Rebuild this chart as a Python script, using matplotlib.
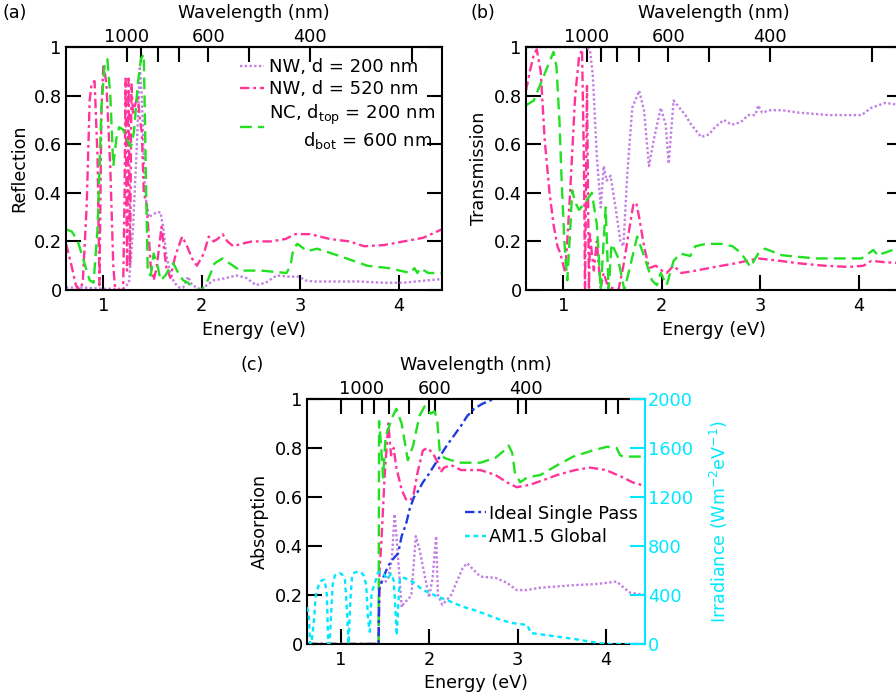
import numpy as np
import matplotlib
matplotlib.use("Agg")
import matplotlib.pyplot as plt
from matplotlib.ticker import FuncFormatter

plt.rcParams["font.family"] = ["DejaVu Sans"]
plt.rcParams["font.size"] = 12.6
plt.rcParams["mathtext.fontset"] = "dejavusans"

purple = "#c27fe4"
pink = "#ff3399"
green = "#22e022"
blue = "#1f3be0"
cyan = "#00e8ff"

# ---- (a) reflection ----
a_e_nw200 = [0.62, 0.80, 1.00, 1.20, 1.26, 1.30, 1.34, 1.37, 1.39, 1.42, 1.46, 1.50, 1.54, 1.58,
             1.61, 1.64, 1.68, 1.72, 1.77, 1.81, 1.86, 1.90, 1.95, 2.00, 2.05, 2.12, 2.20, 2.35,
             2.45, 2.55, 2.65, 2.76, 2.88, 2.99, 3.05, 3.13, 3.34, 3.60, 3.84, 4.05, 4.17, 4.30, 4.44]
a_r_nw200 = [0.01, 0.01, 0.005, 0.005, 0.03, 0.25, 0.60, 0.92, 0.80, 0.41, 0.30, 0.31, 0.32, 0.32,
             0.25, 0.14, 0.07, 0.03, 0.01, 0.01, 0.055, 0.02, 0.01, 0.0, 0.02, 0.04, 0.045, 0.06,
             0.05, 0.02, 0.03, 0.06, 0.055, 0.055, 0.04, 0.035, 0.035, 0.035, 0.03, 0.03, 0.035, 0.04, 0.045]

a_e_nw520 = [0.62, 0.67, 0.72, 0.76, 0.79, 0.83, 0.86, 0.88, 0.91, 0.94, 0.96, 0.98, 1.00, 1.03,
             1.07, 1.10, 1.12, 1.20, 1.215, 1.225, 1.24, 1.255, 1.27, 1.285, 1.30, 1.32, 1.35, 1.37,
             1.39, 1.41, 1.44, 1.48, 1.51, 1.54, 1.59, 1.64, 1.68, 1.73, 1.80, 1.85, 1.90, 1.95,
             2.02, 2.07, 2.12, 2.16, 2.21, 2.26, 2.32, 2.40, 2.51, 2.70, 2.85, 2.95, 3.10, 3.30,
             3.50, 3.65, 3.85, 4.05, 4.25, 4.44]
a_r_nw520 = [0.19, 0.11, 0.02, 0.0, 0.03, 0.35, 0.78, 0.85, 0.86, 0.55, 0.02, 0.75, 0.93, 0.85,
             0.50, 0.10, 0.0, 0.0, 0.40, 0.87, 0.08, 0.87, 0.10, 0.85, 0.72, 0.76, 0.80, 0.70,
             0.65, 0.40, 0.35, 0.10, 0.04, 0.09, 0.26, 0.09, 0.05, 0.14, 0.22, 0.18, 0.13, 0.10,
             0.15, 0.22, 0.20, 0.21, 0.23, 0.20, 0.18, 0.19, 0.20, 0.20, 0.21, 0.23, 0.23, 0.21,
             0.20, 0.18, 0.185, 0.20, 0.215, 0.25]

a_e_nc = [0.62, 0.68, 0.74, 0.80, 0.86, 0.90, 0.94, 0.98, 1.01, 1.04, 1.07, 1.10, 1.13, 1.16,
          1.20, 1.24, 1.28, 1.31, 1.35, 1.38, 1.41, 1.43, 1.45, 1.48, 1.51, 1.55, 1.58, 1.63,
          1.67, 1.71, 1.76, 1.81, 1.86, 1.92, 2.00, 2.06, 2.13, 2.21, 2.28, 2.39, 2.60, 2.86,
          2.90, 2.93, 2.97, 3.07, 3.17, 3.40, 3.68, 3.90, 4.12, 4.16, 4.19, 4.22, 4.30, 4.44]
a_r_nc = [0.25, 0.24, 0.20, 0.12, 0.04, 0.03, 0.25, 0.75, 0.92, 0.95, 0.80, 0.51, 0.62, 0.67,
          0.66, 0.62, 0.59, 0.65, 0.85, 0.95, 0.97, 0.50, 0.07, 0.06, 0.15, 0.10, 0.04, 0.06,
          0.09, 0.11, 0.07, 0.04, 0.03, 0.0, 0.0, 0.04, 0.11, 0.13, 0.11, 0.08, 0.08, 0.07,
          0.10, 0.17, 0.19, 0.16, 0.17, 0.14, 0.10, 0.09, 0.07, 0.09, 0.07, 0.09, 0.07, 0.07]

# ---- (b) transmission ----
b_e_nw200 = [0.62, 0.90, 1.20, 1.27, 1.30, 1.34, 1.38, 1.41, 1.44, 1.48, 1.53, 1.58, 1.61, 1.65,
             1.70, 1.77, 1.82, 1.87, 1.92, 1.99, 2.04, 2.07, 2.12, 2.18, 2.24, 2.30, 2.40, 2.48,
             2.54, 2.63, 2.71, 2.80, 2.88, 2.95, 2.98, 3.02, 3.10, 3.22, 3.39, 3.70, 4.03, 4.13,
             4.27, 4.44]
b_t_nw200 = [1.0, 1.0, 1.0, 0.99, 0.88, 0.55, 0.34, 0.51, 0.45, 0.47, 0.34, 0.20, 0.18, 0.48,
             0.75, 0.82, 0.74, 0.51, 0.62, 0.75, 0.68, 0.52, 0.78, 0.75, 0.72, 0.68, 0.63, 0.64,
             0.67, 0.70, 0.68, 0.69, 0.72, 0.72, 0.76, 0.73, 0.74, 0.74, 0.73, 0.72, 0.72, 0.75,
             0.77, 0.76]

b_e_nw520 = [0.62, 0.66, 0.70, 0.73, 0.77, 0.81, 0.86, 0.90, 0.94, 0.97, 1.02, 1.07, 1.12, 1.16,
             1.19, 1.21, 1.22, 1.24, 1.26, 1.27, 1.29, 1.31, 1.34, 1.36, 1.38, 1.41, 1.44, 1.48,
             1.56, 1.61, 1.65, 1.71, 1.74, 1.77, 1.82, 1.87, 1.94, 2.00, 2.05, 2.12, 2.20, 2.35,
             2.54, 2.75, 2.98, 3.20, 3.39, 3.65, 3.90, 4.05, 4.13, 4.25, 4.44]
b_t_nw520 = [0.82, 0.90, 0.97, 0.99, 0.90, 0.62, 0.40, 0.27, 0.18, 0.15, 0.07, 0.41, 0.80, 0.96,
             0.99, 0.50, 0.0, 0.84, 0.0, 0.23, 0.15, 0.08, 0.20, 0.10, 0.01, 0.07, 0.03, 0.01,
             0.0, 0.10, 0.20, 0.35, 0.36, 0.30, 0.18, 0.09, 0.10, 0.08, 0.07, 0.10, 0.07, 0.08,
             0.095, 0.11, 0.13, 0.12, 0.11, 0.10, 0.095, 0.10, 0.12, 0.115, 0.11]

b_e_nc = [0.62, 0.70, 0.80, 0.86, 0.90, 0.93, 0.96, 0.98, 1.01, 1.04, 1.07, 1.09, 1.12, 1.16,
          1.22, 1.29, 1.34, 1.38, 1.43, 1.46, 1.49, 1.55, 1.62, 1.68, 1.75, 1.82, 1.90, 1.95,
          1.99, 2.05, 2.12, 2.19, 2.29, 2.34, 2.45, 2.61, 2.72, 2.81, 2.90, 2.98, 3.05, 3.22,
          3.56, 4.03, 4.10, 4.15, 4.20, 4.24, 4.37, 4.44]
b_t_nc = [0.76, 0.78, 0.88, 0.94, 0.98, 0.92, 0.70, 0.48, 0.20, 0.04, 0.25, 0.41, 0.36, 0.33,
          0.36, 0.40, 0.27, 0.0, 0.34, 0.0, 0.19, 0.14, 0.0, 0.10, 0.22, 0.14, 0.04, 0.02,
          0.07, 0.02, 0.12, 0.15, 0.14, 0.18, 0.19, 0.19, 0.18, 0.15, 0.095, 0.15, 0.17, 0.143,
          0.13, 0.13, 0.15, 0.165, 0.14, 0.15, 0.168, 0.17]

# ---- (c) absorption and AM1.5 ----
c_e_nw200 = [0.62, 1.43, 1.44, 1.50, 1.54, 1.58, 1.61, 1.63, 1.66, 1.69, 1.72, 1.76, 1.80, 1.85,
             1.89, 1.95, 2.00, 2.04, 2.08, 2.10, 2.15, 2.25, 2.32, 2.38, 2.43, 2.51, 2.58, 2.75,
             2.88, 2.99, 3.10, 3.26, 3.45, 3.63, 3.90, 4.12, 4.20, 4.27, 4.44]
c_a_nw200 = [0.0, 0.0, 0.26, 0.25, 0.27, 0.35, 0.53, 0.45, 0.30, 0.15, 0.17, 0.18, 0.20, 0.44,
             0.39, 0.28, 0.19, 0.27, 0.44, 0.20, 0.16, 0.20, 0.26, 0.31, 0.33, 0.30, 0.275, 0.27,
             0.25, 0.22, 0.22, 0.23, 0.235, 0.24, 0.245, 0.255, 0.23, 0.21, 0.20]

c_e_nw520 = [0.62, 1.43, 1.44, 1.46, 1.50, 1.54, 1.57, 1.60, 1.63, 1.69, 1.74, 1.78, 1.82, 1.87,
             1.93, 1.98, 2.04, 2.10, 2.13, 2.17, 2.25, 2.36, 2.47, 2.58, 2.75, 2.88, 2.99, 3.14,
             3.30, 3.45, 3.65, 3.82, 4.00, 4.19, 4.30, 4.44]
c_a_nw520 = [0.0, 0.0, 0.30, 0.41, 0.70, 0.90, 0.77, 0.80, 0.72, 0.63, 0.59, 0.585, 0.60, 0.70,
             0.79, 0.80, 0.78, 0.74, 0.70, 0.72, 0.73, 0.71, 0.71, 0.71, 0.69, 0.66, 0.64, 0.65,
             0.67, 0.69, 0.71, 0.72, 0.71, 0.68, 0.66, 0.645]

c_e_nc = [0.62, 1.43, 1.435, 1.46, 1.48, 1.51, 1.55, 1.59, 1.63, 1.69, 1.76, 1.82, 1.89, 1.95,
          2.02, 2.06, 2.09, 2.12, 2.17, 2.25, 2.36, 2.58, 2.75, 2.85, 2.90, 2.94, 2.97, 3.03,
          3.11, 3.26, 3.45, 3.63, 3.85, 4.01, 4.12, 4.16, 4.20, 4.44]
c_a_nc = [0.0, 0.0, 0.91, 0.80, 0.68, 0.85, 0.89, 0.93, 0.96, 0.90, 0.75, 0.81, 0.93, 0.97,
          0.94, 0.95, 0.92, 0.79, 0.76, 0.75, 0.74, 0.74, 0.76, 0.79, 0.81, 0.78, 0.70, 0.66,
          0.68, 0.69, 0.73, 0.765, 0.79, 0.805, 0.80, 0.77, 0.765, 0.765]

c_e_ideal = [0.62, 1.43, 1.435, 1.48, 1.54, 1.60, 1.65, 1.69, 1.74, 1.78, 1.83, 1.87, 1.93, 1.99,
             2.06, 2.13, 2.20, 2.28, 2.36, 2.43, 2.51, 2.60, 2.73]
c_a_ideal = [0.0, 0.0, 0.22, 0.27, 0.32, 0.35, 0.37, 0.44, 0.49, 0.55, 0.60, 0.62, 0.66, 0.69,
             0.73, 0.77, 0.81, 0.85, 0.89, 0.93, 0.96, 0.98, 1.0]

c_e_am15 = [0.62, 0.64, 0.655, 0.67, 0.70, 0.72, 0.76, 0.79, 0.82, 0.845, 0.86, 0.875, 0.89, 0.91,
            0.935, 0.96, 0.99, 1.02, 1.05, 1.07, 1.09, 1.11, 1.13, 1.16, 1.20, 1.23, 1.26, 1.29,
            1.31, 1.33, 1.35, 1.38, 1.42, 1.46, 1.50, 1.53, 1.57, 1.60, 1.62, 1.635, 1.65, 1.67,
            1.72, 1.78, 1.83, 1.88, 1.93, 2.00, 2.10, 2.20, 2.28, 2.40, 2.51, 2.65, 2.81, 2.95,
            3.11, 3.15, 3.30, 3.45, 3.65, 3.82, 4.01, 4.20, 4.44]
c_irr_am15 = [300, 250, 0, 0, 200, 400, 500, 520, 525, 400, 0, 0, 200, 480,
              560, 570, 580, 565, 520, 300, 0, 350, 560, 585, 590, 588, 560, 480,
              200, 100, 420, 480, 580, 590, 560, 530, 575, 520, 280, 70, 300, 540,
              540, 520, 500, 470, 440, 420, 384, 360, 334, 300, 277, 240, 196, 170,
              155, 90, 75, 60, 40, 19, 0, 0, 0]

nm_major = [1000, 600, 400]
nm_minor = [900, 800, 700, 500, 300]

dot = (0, (1.0, 1.0))
dashdot = (0, (4, 1.6, 1.2, 1.6))
dash = (0, (5, 2.6))
shortdash = (0, (2, 1.6))
lw = 1.7


def e2nm(e):
    e = np.asarray(e, dtype=float)
    with np.errstate(divide="ignore"):
        return 1240.0 / e


def style(ax, ylabel, mirror=True):
    ax.set_xlim(0.62, 4.44)
    ax.set_ylim(0, 1)
    ax.set_xticks([1, 2, 3, 4])
    ax.set_yticks([0, 0.2, 0.4, 0.6, 0.8, 1])
    ax.yaxis.set_major_formatter(FuncFormatter(lambda v, p: "%g" % v))
    ax.tick_params(direction="in", length=11, width=1.5, labelsize=12.8, pad=3,
                   right=mirror)
    ax.tick_params(axis="x", pad=5)
    for s in ax.spines.values():
        s.set_linewidth(1.5)
    ax.set_xlabel("Energy (eV)", labelpad=4)
    ax.set_ylabel(ylabel, labelpad=4)
    sec = ax.secondary_xaxis("top", functions=(e2nm, e2nm))
    sec.set_xticks(nm_major)
    sec.set_xticks(nm_minor, minor=True)
    sec.set_xticklabels([str(v) for v in nm_major])
    sec.tick_params(which="both", direction="in", length=11, width=1.5,
                    labelsize=12.8, pad=1)
    sec.spines["top"].set_linewidth(1.5)
    sec.set_xlabel("Wavelength (nm)", labelpad=7)
    return sec


fig = plt.figure(figsize=(8.96, 7.0), dpi=100)

# (a)
axa = fig.add_axes([0.0737, 0.5857, 0.4196, 0.3471])
axa.plot(a_e_nw200, a_r_nw200, color=purple, ls=dot, lw=lw, label="NW, d = 200 nm")
axa.plot(a_e_nw520, a_r_nw520, color=pink, ls=dashdot, lw=lw, label="NW, d = 520 nm")
axa.plot(a_e_nc, a_r_nc, color=green, ls=dash, lw=lw,
         label="NC, d$_{\\mathrm{top}}$ = 200 nm\n      d$_{\\mathrm{bot}}$ = 600 nm")
style(axa, "Reflection")
axa.legend(loc="upper left", bbox_to_anchor=(0.44, 0.99), frameon=False,
           handlelength=1.3, handletextpad=0.3, labelspacing=0.22, borderpad=0,
           fontsize=13)

# (b)
axb = fig.add_axes([0.587, 0.5857, 0.4196, 0.3471])
axb.plot(b_e_nw200, b_t_nw200, color=purple, ls=dot, lw=lw, clip_on=False)
axb.plot(b_e_nw520, b_t_nw520, color=pink, ls=dashdot, lw=lw)
axb.plot(b_e_nc, b_t_nc, color=green, ls=dash, lw=lw)
style(axb, "Transmission")

# (c)
axc = fig.add_axes([0.3426, 0.08, 0.3772, 0.35])
axc.plot(c_e_nw200, c_a_nw200, color=purple, ls=dot, lw=lw)
axc.plot(c_e_nw520, c_a_nw520, color=pink, ls=dashdot, lw=lw)
axc.plot(c_e_nc, c_a_nc, color=green, ls=dash, lw=lw)
ideal, = axc.plot(c_e_ideal, c_a_ideal, color=blue, ls=dashdot, lw=lw,
                  label="Ideal Single Pass")
style(axc, "Absorption", mirror=False)
axc.tick_params(top=True)
axc.spines["right"].set_visible(False)

axr = axc.twinx()
am, = axr.plot(c_e_am15, c_irr_am15, color=cyan, ls=shortdash, lw=lw, label="AM1.5 Global")
axr.set_ylim(0, 2000)
axr.set_yticks([0, 400, 800, 1200, 1600, 2000])
axr.tick_params(direction="in", length=11, width=1.5, labelsize=12.8, pad=2,
                colors=cyan)
axr.spines["right"].set_color(cyan)
axr.spines["right"].set_linewidth(1.5)
for side in ["left", "top", "bottom"]:
    axr.spines[side].set_visible(False)
axr.set_ylabel("Irradiance (Wm$^{-2}$eV$^{-1}$)", color=cyan, labelpad=11)
axr.legend(handles=[ideal, am], loc="upper left", bbox_to_anchor=(0.44, 0.605),
           frameon=False, handlelength=1.2, handletextpad=0.2, labelspacing=0.3,
           borderpad=0, fontsize=12.8)

fig.text(0.003, 0.982, "(a)", fontsize=12.6, va="center")
fig.text(0.525, 0.982, "(b)", fontsize=12.6, va="center")
fig.text(0.268, 0.478, "(c)", fontsize=12.6, va="center")

fig.savefig("out.png", dpi=100)
